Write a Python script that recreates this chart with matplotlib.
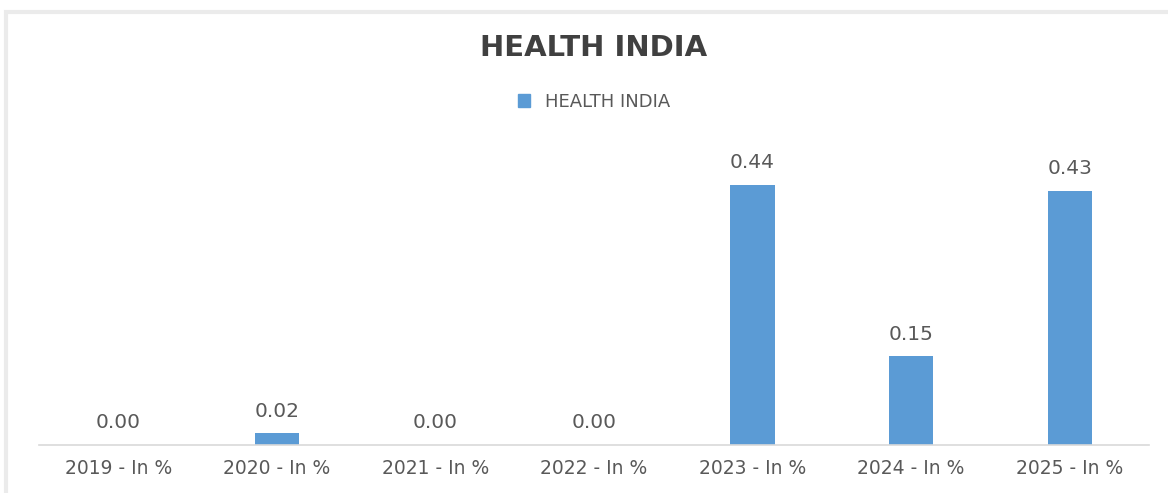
import matplotlib.pyplot as plt
from matplotlib.patches import Rectangle, Patch

plt.rcParams['font.family'] = ['DejaVu Sans']

years = ["2019 - In %", "2020 - In %", "2021 - In %", "2022 - In %",
         "2023 - In %", "2024 - In %", "2025 - In %"]
health_india = [0.00, 0.02, 0.00, 0.00, 0.44, 0.15, 0.43]

bar_color = "#5B9BD5"
text_color = "#595959"

fig = plt.figure(figsize=(11.68, 4.93), dpi=100)
ax = fig.add_axes([39 / 1168, 1 - 445 / 493, 1110 / 1168, (445 - 149.5) / 493])

x = range(len(years))
bars = ax.bar(x, health_india, width=0.28, color=bar_color)
for rect, v in zip(bars, health_india):
    ax.annotate(f"{v:.2f}", (rect.get_x() + rect.get_width() / 2, v),
                xytext=(0, 9), textcoords="offset points",
                ha="center", va="bottom", fontsize=14.5, color=text_color)

ax.set_xlim(-0.5, len(years) - 0.5)
ax.set_ylim(0, 0.5)
ax.set_xticks(list(x))
ax.set_xticklabels(years, fontsize=13.5, color=text_color)
ax.tick_params(axis="x", length=0, pad=10)
ax.set_yticks([])
for side in ["top", "left", "right"]:
    ax.spines[side].set_visible(False)
ax.spines["bottom"].set_color("#d9d9d9")
ax.spines["bottom"].set_linewidth(1.2)

fig.text(594 / 1168, 1 - 48 / 493, "HEALTH INDIA", ha="center", va="center",
         fontsize=21, fontweight="bold", color="#404040")
fig.legend(handles=[Patch(color=bar_color, label="HEALTH INDIA")],
           loc="center", bbox_to_anchor=(594 / 1168, 1 - 102 / 493),
           frameon=False, fontsize=13, labelcolor=text_color,
           handlelength=0.7, handleheight=0.7, handletextpad=0.8)

# light frame around the chart area
fig.patches.append(Rectangle((6 / 1168, -0.1), 1.2, 1 - 12 / 493 + 0.1,
                             transform=fig.transFigure, fill=False,
                             edgecolor="#ebebeb", linewidth=3))

fig.savefig("out.png", dpi=100)
